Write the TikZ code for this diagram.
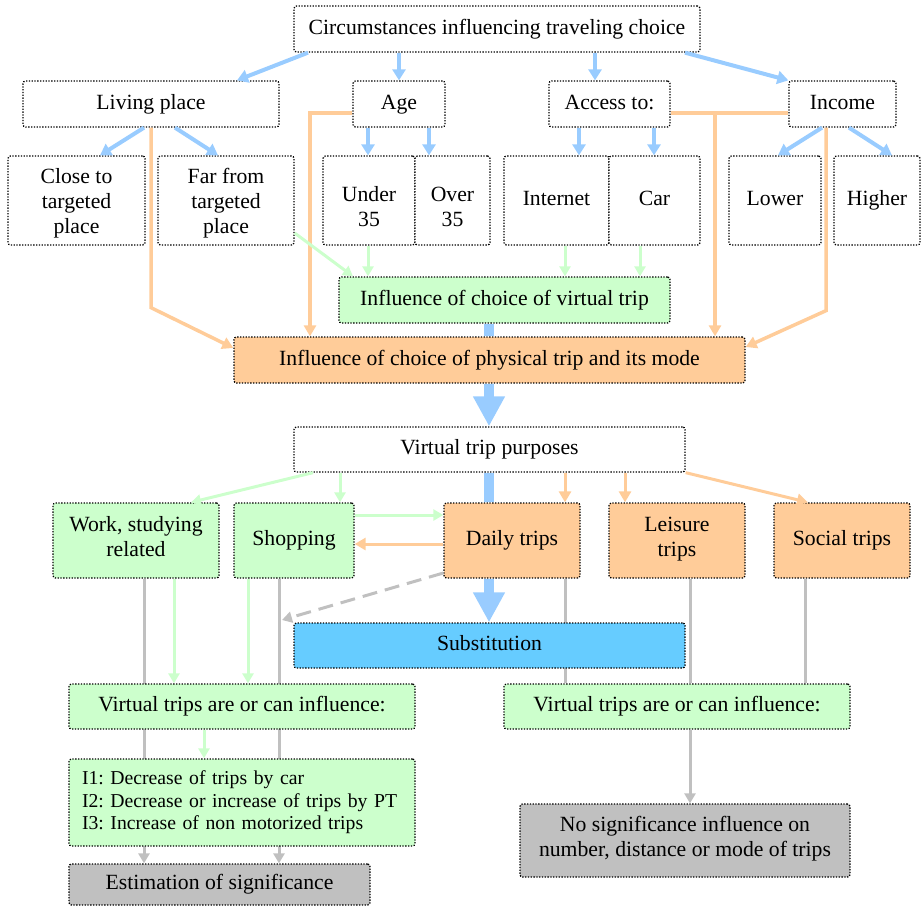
\documentclass[tikz,border=0pt]{standalone}
\usepackage{fontspec}
\setmainfont{Liberation Serif}
\usetikzlibrary{arrows.meta,backgrounds}
\definecolor{lblue}{HTML}{99CCFF}
\definecolor{lorange}{HTML}{FFCC99}
\definecolor{lgreen}{HTML}{CCFFCC}
\definecolor{lgray}{HTML}{C0C0C0}
\definecolor{sblue}{HTML}{66CCFF}
\frenchspacing
\begin{document}
\begin{tikzpicture}[x=1pt,y=-1pt,
  bx/.style={draw=black, line width=1.3pt, dash pattern=on 1.3pt off 1.5pt, rounded corners=2.5pt,
    inner sep=0pt, align=center, font=\fontsize{21.7}{25}\selectfont, minimum height=46pt,
    execute at begin node=\strut, execute at end node=\strut},
  wbox/.style={bx, fill=white},
  gbox/.style={bx, fill=lgreen},
  obox/.style={bx, fill=lorange},
  ba/.style={draw=lblue, line width=4pt, -{Triangle[length=11pt,width=13pt]}},
  oa/.style={draw=lorange, line width=3.5pt, -{Triangle[length=11pt,width=12pt]}},
  ol/.style={draw=lorange, line width=3.5pt},
  ga/.style={draw=lgreen, line width=3pt, -{Triangle[length=10pt,width=11pt]}},
  gra/.style={draw=lgray, line width=3pt, -{Triangle[length=10pt,width=11pt]}},
  grl/.style={draw=lgray, line width=3pt},
  bigb/.style={draw=lblue, line width=10pt, -{Triangle[length=30pt,width=30pt]}},
  bbar/.style={draw=lblue, line width=10pt}
]
\useasboundingbox (0,0) rectangle (924,906);
% row 0
\node[wbox, minimum width=406pt] (circ) at (497,29) {Circumstances influencing traveling choice};
% row 1
\node[wbox, minimum width=256pt] (liv) at (151,104) {Living place};
\node[wbox, minimum width=92pt] (age) at (399,104) {Age};
\node[wbox, minimum width=121pt] (acc) at (609.5,104) {Access to:};
\node[wbox, minimum width=107pt] (inc) at (842.5,104) {Income};
% row 2
\node[wbox, minimum width=137pt, minimum height=89pt, text depth=0pt] (close) at (76.5,200.5) {Close to\\targeted\\place};
\node[wbox, minimum width=136pt, minimum height=89pt, text depth=0pt] (far) at (226,200.5) {Far from\\targeted\\place};
\node[wbox, minimum width=92pt, minimum height=89pt, text depth=0pt] (under) at (369,200.5) {\rule{0pt}{27pt}Under\\35};
\node[wbox, minimum width=75pt, minimum height=89pt, text depth=0pt] (over) at (452.5,200.5) {\rule{0pt}{27pt}Over\\35};
\node[wbox, minimum width=105pt, minimum height=89pt] (inet) at (556.5,200.5) {Internet};
\node[wbox, minimum width=91pt, minimum height=89pt] (car) at (654.5,200.5) {Car};
\node[wbox, minimum width=92pt, minimum height=89pt] (lower) at (775,200.5) {Lower};
\node[wbox, minimum width=86pt, minimum height=89pt] (higher) at (877,200.5) {Higher};
% influence
\node[gbox, minimum width=331pt] (virt) at (504.5,300) {Influence of choice of virtual trip};
\node[obox, minimum width=511pt] (phys) at (489.5,360) {Influence of choice of physical trip and its mode};
% purposes
\node[wbox, minimum width=391pt, minimum height=45pt] (vtp) at (489.5,449.5) {Virtual trip purposes};
\node[gbox, minimum width=166pt, minimum height=75pt] (work) at (136,540.5) {Work, studying\\related};
\node[gbox, minimum width=120pt, minimum height=75pt] (shop) at (294,540.5) {Shopping};
\node[obox, minimum width=136pt, minimum height=75pt] (daily) at (512,540.5) {Daily trips};
\node[obox, minimum width=136pt, minimum height=75pt] (leis) at (677,540.5) {Leisure\\trips};
\node[obox, minimum width=136pt, minimum height=75pt] (soc) at (842,540.5) {Social trips};
\node[bx, fill=sblue, minimum width=391pt, minimum height=45pt] (subst) at (489.5,645.5) {Substitution};
% lower part
\node[gbox, minimum width=346pt, minimum height=45pt] (vl) at (242,706.5) {Virtual trips are or can influence:};
\node[gbox, minimum width=346pt, minimum height=45pt] (vr) at (677,706.5) {Virtual trips are or can influence:};
\node[gbox, text width=320pt, inner xsep=13pt, align=left, minimum height=87pt,
  font=\fontsize{19.7}{22.5}\selectfont] (ibox) at (242,802.5)
  {I1: Decrease of trips by car\\I2: Decrease or increase of trips by PT\\I3: Increase of non motorized trips};
\node[bx, fill=lgray, minimum width=301pt, minimum height=41pt] (est) at (219.5,884.5) {Estimation of significance};
\node[bx, fill=lgray, minimum width=330pt, minimum height=73pt] (nosig) at (685,840.5) {No significance influence on\\number, distance or mode of trips};

\coordinate (j1) at (715,113);
\coordinate (dend) at (282,620);

% background lines
\begin{pgfonlayer}{background}
\draw[gra] (work.south -| 144,0) -- (est.north -| 144,0);
\draw[gra] (shop.south -| 279,0) -- (est.north -| 279,0);
\draw[grl] (daily.south -| 565,0) -- (vr.north -| 565,0);
\draw[grl] (leis.south -| 690,0) -- (vr.north -| 690,0);
\draw[grl] (soc.south -| 805,0) -- (vr.north -| 805,0);
\draw[bbar] (virt.south -| 489,0) -- (phys.north -| 489,0);
\draw[bbar] (vtp.south -| 489,0) -- (daily.north -| 489,0);
\end{pgfonlayer}

% blue arrows
\draw[ba] (circ.south -| 308,0) -- (liv.north -| 237,0);
\draw[ba] (circ.south -| 399,0) -- (age.north -| 399,0);
\draw[ba] (circ.south -| 595,0) -- (acc.north -| 595,0);
\draw[ba] (circ.south -| 685,0) -- (inc.north west);
\draw[ba] (liv.south -| 144,0) -- (close.north -| 100,0);
\draw[ba] (liv.south -| 175,0) -- (far.north -| 218,0);
\draw[ba] (age.south -| 368,0) -- (under.north -| 368,0);
\draw[ba] (age.south -| 429,0) -- (over.north -| 429,0);
\draw[ba] (acc.south -| 579,0) -- (inet.north -| 579,0);
\draw[ba] (acc.south -| 654,0) -- (car.north -| 654,0);
\draw[ba] (inc.south -| 822,0) -- (lower.north -| 778,0);
\draw[ba] (inc.south -| 849,0) -- (higher.north -| 892,0);

% orange into physical
\draw[oa] (liv.south -| 151,0) -- ++(0,180) -- (phys.west |- 0,348);
\draw[oa] (age.west |- 0,113) -| (phys.north -| 310,0);
\draw[ol] (acc.east |- 0,113) -- (inc.west |- 0,113);
\draw[oa] (j1) -- (phys.north -| 715,0);
\draw[oa] (inc.south -| 826,0) -- ++(0,183) -- (phys.east |- 0,347);

% green into virtual
\draw[ga] (far.east |- 0,233) -- (virt.north -| 353,0);
\draw[ga] (under.south -| 368,0) -- (virt.north -| 368,0);
\draw[ga] (inet.south -| 565,0) -- (virt.north -| 565,0);
\draw[ga] (car.south -| 640,0) -- (virt.north -| 640,0);

% big blue arrows
\draw[bigb] (phys.south -| 489,0) -- (vtp.north -| 489,0);
\draw[bigb] (daily.south -| 489,0) -- (subst.north -| 489,0);

% purposes
\draw[ga] (vtp.south -| 313,0) -- (work.north -| 191,0);
\draw[ga] (vtp.south -| 340,0) -- (shop.north -| 340,0);
\draw[ga] (shop.east |- 0,515) -- (daily.west |- 0,515);
\draw[oa, line width=3pt] (daily.west |- 0,544) -- (shop.east |- 0,544);
\draw[oa, line width=3pt] (vtp.south -| 565,0) -- (daily.north -| 565,0);
\draw[oa, line width=3pt] (vtp.south -| 625,0) -- (leis.north -| 625,0);
\draw[oa, line width=3pt] (vtp.south east) -- (soc.north -| 808,0);

% dashed gray
\draw[gra, dash pattern=on 15pt off 8pt] (daily.west |- 0,573) -- (dend);

% lower green
\draw[ga] (work.south -| 174,0) -- (vl.north -| 174,0);
\draw[ga] (shop.south -| 248,0) -- (vl.north -| 248,0);
\draw[ga] (vl.south -| 204,0) -- (ibox.north -| 204,0);
\draw[gra] (vr.south -| 690,0) -- (nosig.north -| 690,0);
\end{tikzpicture}
\end{document}
